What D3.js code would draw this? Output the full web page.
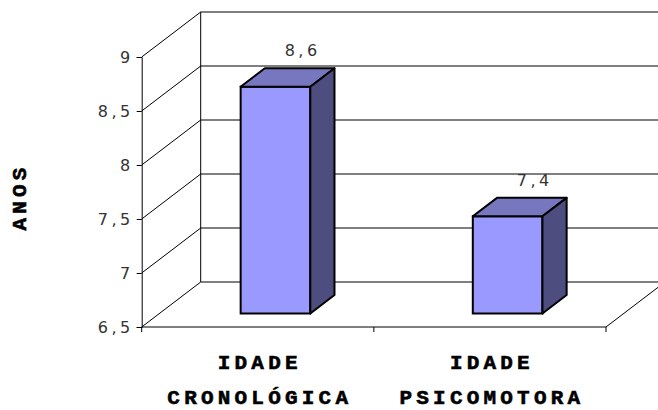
<!DOCTYPE html>
<html lang="pt">
<head>
    <meta charset="UTF-8">
    <title>Idade</title>
    <script src="https://cdn.jsdelivr.net/npm/d3@7"></script>
    <style type="text/css">
        body { margin: 0; background: #fff; }
        .wall { stroke: #000; stroke-width: 1; fill: none; }
        .num { font-family: "DejaVu Sans", Verdana, sans-serif; font-size: 16px; fill: #333; letter-spacing: 3.5px; }
        .cat { font-family: "Liberation Mono", "Courier New", monospace; font-weight: bold; font-size: 21px;
               letter-spacing: 4.2px; fill: #000; stroke: #000; stroke-width: 0.6px; }
    </style>
</head>
<body>
<svg id="chart"></svg>
<script>
    // Data
    var categories = ["IDADE CRONOLÓGICA", "IDADE PSICOMOTORA"];
    var labelLines = [["IDADE", "CRONOLÓGICA"], ["IDADE", "PSICOMOTORA"]];
    var values = [8.6, 7.4];
    var yTicks = [6.5, 7, 7.5, 8, 8.5, 9];

    var width = 658, height = 410;
    var plotLeft = 141.7, plotRight = 606, plotTop = 57, plotBottom = 327;
    var depthX = 59, depthY = -45;     // depth of the 3D box
    var barFront = 0.3, barDepth = 0.41; // fractions of depth

    var svg = d3.select("#chart").attr("width", width).attr("height", height);

    var y = d3.scaleLinear().domain([6.5, 9]).range([plotBottom, plotTop]);
    var x = d3.scaleBand().domain(categories).range([plotLeft, plotRight]);

    var fmt = function (d) { return String(d).replace(".", ","); };

    // back wall gridlines and side wall diagonals
    var g = svg.append("g");
    yTicks.forEach(function (v) {
        g.append("line").attr("class", "wall")
            .attr("x1", plotLeft).attr("y1", y(v))
            .attr("x2", plotLeft + depthX).attr("y2", y(v) + depthY);
        g.append("line").attr("class", "wall")
            .attr("x1", plotLeft + depthX).attr("y1", y(v) + depthY)
            .attr("x2", width + 20).attr("y2", y(v) + depthY);
    });
    // back wall left edge
    g.append("line").attr("class", "wall")
        .attr("x1", plotLeft + depthX).attr("y1", y(9) + depthY)
        .attr("x2", plotLeft + depthX).attr("y2", y(6.5) + depthY);
    // floor front edge + right diagonal
    g.append("line").attr("class", "wall")
        .attr("x1", plotLeft).attr("y1", plotBottom).attr("x2", plotRight).attr("y2", plotBottom);
    g.append("line").attr("class", "wall")
        .attr("x1", plotRight).attr("y1", plotBottom)
        .attr("x2", plotRight + depthX).attr("y2", plotBottom + depthY);

    // category ticks
    var catTicks = [plotLeft].concat(categories.map(function (c) { return x(c) + x.bandwidth(); }));
    g.selectAll(".ctick").data(catTicks).enter().append("line")
        .attr("class", "wall")
        .attr("x1", function (d) { return d; }).attr("x2", function (d) { return d; })
        .attr("y1", plotBottom).attr("y2", plotBottom + 5);

    // y axis
    var axis = d3.axisLeft(y).tickValues(yTicks).tickFormat(fmt).tickSize(5).tickPadding(3);
    var ax = svg.append("g").attr("transform", "translate(" + plotLeft + ",0)").call(axis);
    ax.select(".domain").attr("stroke", "#000");
    ax.selectAll(".tick line").attr("stroke", "#000");
    ax.selectAll(".tick text").attr("class", "num").attr("fill", "#333")
        .style("font-size", "16px");

    // bars
    var bw = x.bandwidth() * 0.3;
    var fx = depthX * barFront, fy = depthY * barFront;
    var dx = depthX * barDepth, dy = depthY * barDepth;

    var bars = svg.selectAll(".bar").data(values).enter().append("g");
    bars.each(function (v, i) {
        var b = d3.select(this);
        var x0 = x(categories[i]) + (x.bandwidth() - bw) / 2 + fx;
        var x1 = x0 + bw;
        var yt = y(v) + fy, yb = y(6.5) + fy;
        b.append("rect")
            .attr("x", x0).attr("y", yt).attr("width", bw).attr("height", yb - yt)
            .attr("fill", "#9999ff").attr("stroke", "#000").attr("stroke-width", 2);
        b.append("polygon")
            .attr("points", [[x0, yt], [x0 + dx, yt + dy], [x1 + dx, yt + dy], [x1, yt]].join(" "))
            .attr("fill", "#7777c0").attr("stroke", "#000").attr("stroke-width", 2)
            .attr("stroke-linejoin", "round");
        b.append("polygon")
            .attr("points", [[x1, yt], [x1 + dx, yt + dy], [x1 + dx, yb + dy], [x1, yb]].join(" "))
            .attr("fill", "#4d4d80").attr("stroke", "#000").attr("stroke-width", 2)
            .attr("stroke-linejoin", "round");
        b.append("text").attr("class", "num")
            .attr("x", (x0 + x1) / 2 + dx + 3).attr("y", yt + dy - 12)
            .attr("text-anchor", "middle")
            .text(fmt(v));
    });

    // category labels
    labelLines.forEach(function (lines, i) {
        var cx = x(categories[i]) + x.bandwidth() / 2;
        lines.forEach(function (t, j) {
            svg.append("text").attr("class", "cat")
                .attr("x", cx + 2).attr("y", 369 + j * 35)
                .attr("text-anchor", "middle").text(t);
        });
    });

    // y title
    svg.append("text").attr("class", "cat")
        .attr("transform", "translate(26,197) rotate(-90)")
        .attr("text-anchor", "middle").text("ANOS");
</script>
</body>
</html>
